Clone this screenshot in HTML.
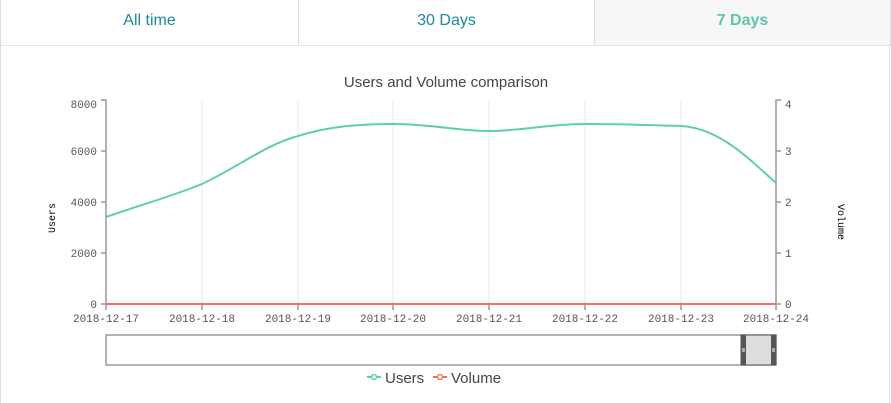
<!DOCTYPE html>
<html><head><style>
body{margin:0;width:891px;height:403px;background:#fff;font-family:"Liberation Sans",sans-serif;overflow:hidden;position:relative}
.tabs{position:absolute;left:0;top:0;width:889px;height:45px;border-bottom:1px solid #e5e5e5;border-left:1px solid #ddd;border-right:1px solid #ddd}
.tab{position:absolute;top:0;height:45px;line-height:42px;text-align:center;font-size:16px;color:#1a8a99}
</style></head><body>
<div class="tabs">
<div class="tab" style="left:0;width:297px;border-right:1px solid #ddd">All time</div>
<div class="tab" style="left:298px;width:295px;border-right:1px solid #ddd">30 Days</div>
<div class="tab" style="left:594px;width:295px;background:#f7f7f7;color:#5fc5aa;font-weight:bold">7 Days</div>
</div>
<div style="position:absolute;left:0;top:46px;width:1px;height:357px;background:#ddd"></div>
<div style="position:absolute;left:889px;top:46px;width:1px;height:357px;background:#ddd"></div>
<svg width="891" height="403" style="position:absolute;left:0;top:0" font-family="Liberation Mono, monospace" font-size="11" fill="#555">
<text x="446" y="87" text-anchor="middle" font-family="Liberation Sans, sans-serif" font-size="15" fill="#444">Users and Volume comparison</text>
<g stroke="#eaeaea">
<line x1="202" y1="100" x2="202" y2="304"/><line x1="298" y1="100" x2="298" y2="304"/><line x1="393" y1="100" x2="393" y2="304"/><line x1="489" y1="100" x2="489" y2="304"/><line x1="585" y1="100" x2="585" y2="304"/><line x1="681" y1="100" x2="681" y2="304"/>
</g>
<g stroke="#999" fill="none" stroke-width="1.5">
<path d="M101,100H106V304"/><path d="M781,100H776V304"/>
<path d="M101,151H106M101,202H106M101,253H106M101,304H106"/>
<path d="M776,151H781M776,202H781M776,253H781M776,304H781"/>
<path d="M106,304V310M202,304V310M298,304V310M393,304V310M489,304V310M585,304V310M681,304V310M776,304V310"/>
</g>
<g text-anchor="end"><text x="97" y="108">8000</text><text x="97" y="155">6000</text><text x="97" y="206">4000</text><text x="97" y="257">2000</text><text x="97" y="308">0</text></g>
<g><text x="785" y="108">4</text><text x="785" y="155">3</text><text x="785" y="206">2</text><text x="785" y="257">1</text><text x="785" y="308">0</text></g>
<g text-anchor="middle"><text x="106" y="322">2018-12-17</text><text x="202" y="322">2018-12-18</text><text x="298" y="322">2018-12-19</text><text x="393" y="322">2018-12-20</text><text x="489" y="322">2018-12-21</text><text x="585" y="322">2018-12-22</text><text x="681" y="322">2018-12-23</text><text x="776" y="322">2018-12-24</text></g>
<text transform="translate(55,218) rotate(-90)" text-anchor="middle" font-size="10" fill="#000">Users</text>
<text transform="translate(838,222) rotate(90)" text-anchor="middle" font-size="10" fill="#000">Volume</text>
<path d="M106,217 C140,205 170,197 202,184 C240,166 265,145 298,136 C330,126 360,124 393,124 C430,124 460,131 489,131 C520,131 550,124 585,124 C620,124 650,125 681,126 C720,128 750,160 776,183" fill="none" stroke="#5fcdb4" stroke-width="2"/>
<line x1="106" y1="304" x2="776" y2="304" stroke="#f07060" stroke-width="2"/>
<rect x="106" y="335" width="670" height="30" fill="none" stroke="#999" stroke-width="1.5"/>
<rect x="741" y="335" width="35" height="30" fill="#ddd" stroke="#555" stroke-width="1"/>
<rect x="741" y="335" width="5" height="30" fill="#555"/><rect x="771" y="335" width="5" height="30" fill="#555"/>
<rect x="742" y="348" width="3" height="4" fill="#aaa"/><rect x="772" y="348" width="3" height="4" fill="#aaa"/>
<g stroke-width="2" fill="#fff">
<line x1="367" y1="377" x2="381" y2="377" stroke="#5fcdb4"/><circle cx="374" cy="377" r="2.5" stroke="#5fcdb4" stroke-width="1.5"/>
<line x1="433" y1="377" x2="447" y2="377" stroke="#f07060"/><circle cx="440" cy="377" r="2.5" stroke="#f07060" stroke-width="1.5"/>
</g>
<text x="385" y="383" font-family="Liberation Sans, sans-serif" font-size="15" fill="#444">Users</text>
<text x="451" y="383" font-family="Liberation Sans, sans-serif" font-size="15" fill="#444">Volume</text>
</svg>
</body></html>
